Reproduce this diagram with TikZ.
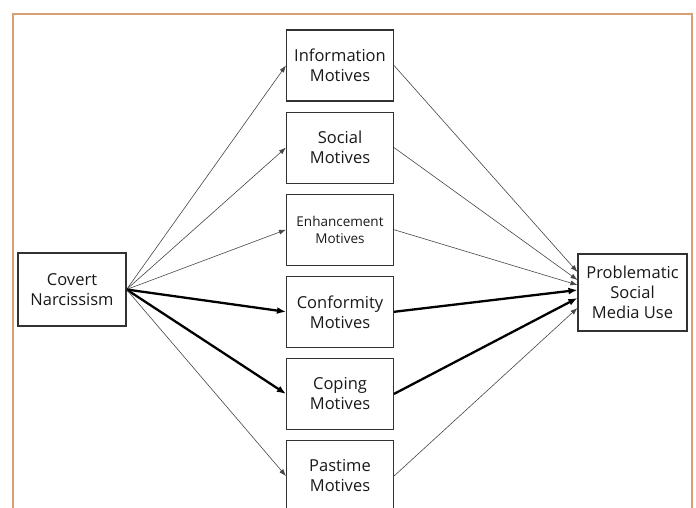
\documentclass[tikz,border=0pt]{standalone}
\usepackage{fontspec}
\setmainfont{Open Sans}
\usepackage{tikz}
\usetikzlibrary{arrows.meta, positioning}
\definecolor{frameOrange}{RGB}{216, 160, 112}
\definecolor{boxGray}{RGB}{50, 50, 50}
\definecolor{lineGray}{RGB}{70, 70, 70}
\begin{document}
\begin{tikzpicture}[
      x=1pt, y=-1pt,
      node distance = 10pt,
      box/.style = {
        draw=boxGray, line width=1.1pt, text=black!90,
        minimum width=107pt, minimum height=71pt, inner sep=2pt,
        align=center, font=\fontsize{16.5}{20}\selectfont
      },
      arrow/.style  = {-{Latex[length=7pt, width=5pt]}, line width=0.6pt, lineGray},
      strong/.style = {-{Latex[length=9pt, width=7pt]}, line width=2.3pt, black},
    ]
    \clip (0,0) rectangle (696,508);
    %% -- Marco ---------------------------------------------------
    \draw[frameOrange, line width=1.4pt] (13,520) -- (13,14) -- (692,14) -- (692,520);
    %% -- Nodos ---------------------------------------------------
    \node (info) [box] at (340,65.5) {Information\\Motives};
    \node (social) [box, below=of info] {Social\\Motives};
    \node (enhance) [box, below=of social,
                     font=\fontsize{13.5}{17}\selectfont] {Enhancement\\Motives};
    \node (conform) [box, below=of enhance] {Conformity\\Motives};
    \node (coping) [box, below=of conform] {Coping\\Motives};
    \node (pastime) [box, below=of coping] {Pastime\\Motives};
    \node (covert) [box, minimum width=108pt, minimum height=73pt] at (72,289.5)
      {Covert\\Narcissism};
    \node (psmu) [box, minimum width=109pt, minimum height=77pt] at (632.5,292.5)
      {Problematic\\Social\\Media Use};
    %% -- Flechas de entrada --------------------------------------
    \draw[arrow] (covert.east) -- (info.west);
    \draw[arrow] (covert.east) -- (social.west);
    \draw[arrow] (covert.east) -- (enhance.west);
    \draw[strong] (covert.east) -- (conform.west);
    \draw[strong] (covert.east) -- (coping.west);
    \draw[arrow] (covert.east) -- (pastime.west);
    %% -- Flechas de salida ---------------------------------------
    \draw[arrow] (info.east) -- ([yshift=20.5pt]psmu.west);
    \draw[arrow] (social.east) -- ([yshift=12.5pt]psmu.west);
    \draw[arrow] (enhance.east) -- ([yshift=7.5pt]psmu.west);
    \draw[strong] (conform.east) -- ([yshift=2.5pt]psmu.west);
    \draw[strong] (coping.east) -- ([yshift=-5.5pt]psmu.west);
    \draw[arrow] (pastime.east) -- ([yshift=-15.5pt]psmu.west);
  \end{tikzpicture}
\end{document}
